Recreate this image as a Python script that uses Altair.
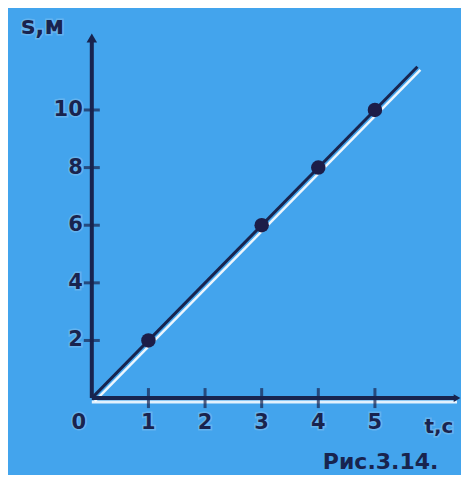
import altair as alt
import pandas as pd

# ---- data ----
t_values = [1, 3, 4, 5]
s_values = [2, 6, 8, 10]
line_t = [0, 5.75]
line_s = [0, 11.5]
x_ticks = [1, 2, 3, 4, 5]
x_tick_labels = ["1", "2", "3", "4", "5"]
y_ticks = [2, 4, 6, 8, 10]
y_tick_labels = ["2", "4", "6", "8", "10"]
x_axis_end = 6.45
y_axis_end = 12.5
x_title = "t,c"
y_title = "s,м"
caption = "Рис.3.14."

NAVY = "#18244f"
BG = "#43a4ed"
FONT = "DejaVu Sans"

xs = alt.Scale(domain=[-1.48, 6.52], nice=False, zero=False)
ys = alt.Scale(domain=[-2.67, 13.54], nice=False, zero=False)


def X(f="t"):
    return alt.X(f"{f}:Q", scale=xs, axis=None)


def Y(f="s"):
    return alt.Y(f"{f}:Q", scale=ys, axis=None)


pts = pd.DataFrame({"t": t_values, "s": s_values})
ln = pd.DataFrame({"t": line_t, "s": line_s})
xaxis = pd.DataFrame({"t": [0], "t2": [x_axis_end], "s": [0]})
yaxis = pd.DataFrame({"t": [0], "s": [0], "s2": [y_axis_end]})
xt = pd.DataFrame({"t": x_ticks, "s": [0] * len(x_ticks), "lab": x_tick_labels})
yt = pd.DataFrame({"t": [0] * len(y_ticks), "s": y_ticks, "lab": y_tick_labels})
origin = pd.DataFrame({"t": [0], "s": [0], "lab": ["0"]})
ytop = pd.DataFrame({"t": [0], "s": [y_axis_end]})
xend = pd.DataFrame({"t": [x_axis_end], "s": [0]})
xtitle = pd.DataFrame({"t": [6.13], "s": [0], "lab": [x_title]})
ytitle = pd.DataFrame({"t": [-0.87], "s": [12.88], "lab": [y_title]})
cap = pd.DataFrame({"t": [5.1], "s": [-2.22], "lab": [caption]})

layers = []

# white shadows
layers.append(alt.Chart(xaxis).mark_rule(color="white", strokeWidth=3, yOffset=4, opacity=0.85)
              .encode(x=X(), x2="t2:Q", y=Y()))
layers.append(alt.Chart(ln).mark_line(color="white", strokeWidth=2.5, xOffset=3, yOffset=3, opacity=0.9)
              .encode(x=X(), y=Y()))

# axes
layers.append(alt.Chart(xaxis).mark_rule(color=NAVY, strokeWidth=4).encode(x=X(), x2="t2:Q", y=Y()))
layers.append(alt.Chart(yaxis).mark_rule(color=NAVY, strokeWidth=4).encode(x=X(), y=Y(), y2="s2:Q"))
layers.append(alt.Chart(ytop).mark_point(shape="triangle-up", filled=True, color=NAVY, size=110, opacity=1)
              .encode(x=X(), y=Y()))
layers.append(alt.Chart(xend).mark_point(shape="triangle-right", filled=True, color=NAVY, size=60, opacity=1)
              .encode(x=X(), y=Y()))

# ticks
layers.append(alt.Chart(xt).mark_tick(orient="vertical", color=NAVY, size=20, thickness=3)
              .encode(x=X(), y=Y()))
layers.append(alt.Chart(yt).mark_tick(orient="horizontal", color=NAVY, size=16, thickness=3)
              .encode(x=X(), y=Y()))

# the graph line and measured points
layers.append(alt.Chart(ln).mark_line(color=NAVY, strokeWidth=3).encode(x=X(), y=Y()))
layers.append(alt.Chart(pts).mark_circle(color="#1c1d48", size=210, opacity=1).encode(x=X(), y=Y()))


def txt(df, halo=True, **kw):
    out = []
    if halo:
        out.append(alt.Chart(df).mark_text(font=FONT, fontWeight="bold", color="white", stroke="white",
                                           strokeWidth=3, strokeOpacity=0.4, opacity=0.45, **kw)
                   .encode(x=X(), y=Y(), text="lab:N"))
    out.append(alt.Chart(df).mark_text(font=FONT, fontWeight="bold", color=NAVY, **kw)
               .encode(x=X(), y=Y(), text="lab:N"))
    return out


layers += txt(xt, fontSize=21, baseline="middle", dy=25)
layers += txt(origin, fontSize=21, baseline="middle", dy=25, dx=-13)
layers += txt(yt, fontSize=21, align="right", baseline="middle", dx=-9)
layers += txt(xtitle, fontSize=20, baseline="middle", dy=29)
layers += txt(ytitle, fontSize=24, baseline="middle")
layers += txt(cap, fontSize=22, halo=False, baseline="middle")

chart = (
    alt.layer(*layers)
    .properties(width=453, height=467, padding=0,
                autosize=alt.AutoSizeParams(type="none"), background=BG)
    .configure_view(fill=BG, stroke=None)
)

chart.save("out.html", embed_options={"renderer": "svg", "actions": False})
